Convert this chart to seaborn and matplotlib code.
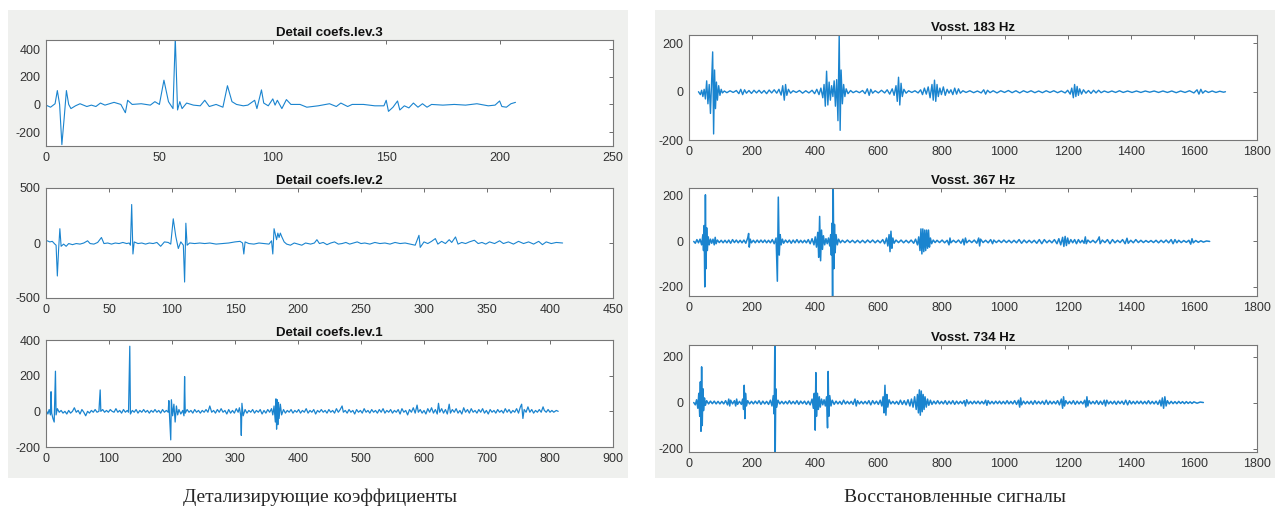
import pandas as pd
import matplotlib.pyplot as plt
import seaborn as sns
from matplotlib.patches import Rectangle

# ── Data (sample index, value) ──────────────────────────────────────────────

lev3 = [(0, -5), (2, -20), (4, 5), (5, 100), (6, 0), (7, -290), (8, -100), (9, 100), (10, 0),
        (11, -30), (13, -10), (15, 5), (18, -15), (20, -5), (22, -15), (24, 10), (26, -5),
        (30, 15), (33, 0), (35, -60), (36, 30), (38, 0), (42, 5), (46, -5), (48, 20), (50, 0),
        (52, 175), (54, 20), (56, -30), (57, 480), (58, -40), (59, 20), (60, -30), (62, 10),
        (65, -5), (68, -10), (70, 30), (72, -15), (75, 0), (78, -20), (80, 135), (82, 20),
        (84, 0), (87, -10), (89, -5), (92, 30), (93, -30), (95, 105), (96, 10), (98, -10),
        (100, 40), (101, -5), (102, 30), (104, -30), (106, 35), (108, 0), (112, 0), (115, -20),
        (120, -10), (125, 5), (128, -15), (130, 10), (133, -15), (135, 0), (140, 0), (145, -10),
        (149, -10), (150, 30), (151, -50), (153, -20), (155, 25), (156, -40), (158, -10),
        (160, -25), (162, 10), (164, -20), (166, 5), (168, -20), (170, 0), (175, -5), (180, 0),
        (185, -5), (190, 5), (195, -10), (198, -5), (200, 25), (201, -15), (203, -20), (205, 5),
        (207, 15)]

lev2 = [(1, 20), (3, 10), (5, 15), (7, -10), (8, -20), (9, -300), (10, -60), (11, 130), (12, -30),
        (14, -10), (16, -30), (18, -5), (21, -15), (24, -5), (27, -10), (30, 0), (33, 20), (35, -5),
        (38, -10), (41, 5), (44, 50), (46, -5), (49, 0), (52, -10), (55, 0), (58, -5), (61, 5),
        (64, -5), (66, 0), (67, -20), (68, 350), (69, -100), (70, 10), (73, -5), (76, 0), (79, -10),
        (82, 0), (85, -5), (88, 5), (91, -30), (94, 10), (97, 5), (99, -10), (101, 220), (103, 60),
        (105, -50), (107, 10), (109, -20), (110, -355), (111, 180), (112, -20), (114, 0), (118, -5),
        (122, 0), (126, -5), (130, 0), (135, -10), (140, -5), (145, 0), (150, 10), (154, 15),
        (156, 0), (157, -100), (158, 10), (161, -5), (165, -10), (169, 0), (173, -5), (177, -10),
        (179, 20), (180, -100), (181, 130), (183, 30), (184, 90), (185, 50), (186, 90), (187, 60),
        (189, 10), (191, -10), (194, -20), (197, 0), (200, -10), (203, -20), (206, 0), (210, -10),
        (213, 0), (215, 30), (217, -5), (220, 5), (223, -15), (226, 0), (229, 10), (232, -10),
        (235, -5), (238, 5), (241, -10), (244, 0), (247, 10), (250, -5), (253, 0), (257, -10),
        (261, 5), (265, -5), (269, 0), (273, -10), (277, 5), (281, -5), (285, 0), (289, -10),
        (293, -20), (296, 70), (297, -40), (300, 10), (303, -5), (306, 15), (309, 40), (311, -10),
        (314, 15), (317, -5), (320, 30), (322, 5), (325, 55), (327, -10), (330, 5), (333, -5),
        (336, 10), (340, 25), (343, -5), (346, 5), (349, -10), (352, 10), (356, -5), (360, 20),
        (363, -5), (367, 10), (371, -10), (375, 15), (379, -5), (383, 10), (387, -10), (391, 15),
        (394, -15), (397, 10), (401, -5), (405, 5), (410, 0)]

lev1 = [(1, 0), (3, -15), (5, 10), (7, -20), (8, 110), (9, -10), (11, -40), (13, -60), (15, 225),
        (16, -20), (18, 15), (21, -5), (24, 5), (27, -10), (30, 0), (33, -15), (36, 5), (39, -10),
        (42, 0), (45, 20), (48, -5), (51, 5), (54, -15), (57, 10), (60, -5), (63, -25), (66, 0),
        (69, -10), (72, 5), (75, -5), (78, 10), (81, -5), (84, 0), (86, 120), (87, 0), (90, 10),
        (93, -5), (96, 5), (99, -5), (102, 10), (105, 0), (108, -5), (111, 15), (114, -5), (117, 5),
        (120, -10), (123, 10), (126, -5), (129, 5), (131, -5), (133, 365), (134, -15), (137, 5),
        (140, -5), (143, 10), (146, -10), (149, 5), (152, -5), (155, 10), (158, -5), (161, 5),
        (164, -10), (167, 5), (170, -5), (173, 10), (176, -5), (179, 5), (182, -10), (185, 10),
        (188, -5), (191, 5), (194, -5), (195, 60), (196, -20), (198, -160), (199, 65), (201, -25),
        (203, 40), (205, -60), (207, 30), (209, -20), (211, 10), (214, -15), (217, 5), (219, -25),
        (220, 195), (221, -10), (224, 10), (227, -5), (230, 5), (233, -10), (236, 10), (239, -5),
        (242, 5), (245, -10), (248, 5), (251, -5), (254, 10), (257, -5), (260, 30), (263, -5),
        (266, 5), (269, -10), (272, 10), (275, -5), (278, 15), (281, -5), (284, 5), (287, -15),
        (290, 10), (293, -10), (296, 5), (299, -10), (302, 15), (305, -5), (307, 20), (309, -20),
        (310, -135), (311, 45), (313, -25), (316, 10), (319, -10), (322, 5), (325, -5), (328, 10),
        (331, -10), (334, 5), (337, -5), (340, 10), (343, -15), (346, 5), (349, -10), (352, 10),
        (355, -5), (358, 15), (360, -20), (362, 30), (364, -60), (365, 70), (366, -100), (367, 65),
        (368, -75), (369, 50), (370, -40), (372, 40), (374, -20), (377, 10), (380, -10), (383, 5),
        (386, -5), (389, 10), (392, -10), (395, 5), (398, -5), (401, 10), (404, -10), (407, 5),
        (410, -5), (413, 15), (416, -10), (419, 5), (422, -5), (425, 10), (428, -15), (431, 5),
        (434, -5), (437, 10), (440, -5), (443, 5), (446, -10), (449, 10), (452, -5), (455, 5),
        (458, -10), (461, 15), (464, -5), (467, 10), (470, 30), (472, -5), (475, 5), (478, -10),
        (481, 10), (484, -5), (487, 5), (490, -15), (493, 10), (496, -5), (499, 5), (502, -10),
        (505, 15), (508, -5), (511, 5), (514, -10), (517, 10), (520, -5), (523, 5), (526, -10),
        (529, 10), (532, -5), (535, 15), (538, -10), (541, 5), (544, -5), (547, 10), (550, -10),
        (553, 5), (556, -5), (559, 10), (562, -15), (565, 15), (568, -5), (571, 5), (574, -20),
        (577, 10), (580, -5), (583, 20), (586, -10), (589, 35), (591, -5), (594, 10), (597, -10),
        (600, 5), (603, -15), (606, 15), (609, -5), (612, 20), (615, -10), (618, 10), (621, -15),
        (623, 45), (625, -5), (628, 15), (631, -10), (634, 10), (637, -15), (640, 40), (642, -10),
        (645, 10), (648, -5), (651, 15), (654, -10), (657, 5), (660, -15), (663, 20), (666, -5),
        (669, 10), (672, -10), (675, 15), (678, -5), (681, 5), (684, -10), (687, 10), (690, -5),
        (693, 15), (696, -10), (699, 5), (702, -15), (705, 10), (708, -5), (711, 5), (714, -10),
        (717, 10), (720, -5), (723, 5), (726, -10), (729, 15), (732, -5), (735, 10), (738, -10),
        (741, 5), (744, -5), (747, 15), (750, -10), (753, 25), (755, 40), (757, -40), (759, 10),
        (762, -5), (765, 25), (768, -5), (771, 10), (774, -10), (777, 5), (780, -5), (783, 10),
        (786, -5), (789, 25), (791, 5), (794, -5), (797, 10), (800, -5), (803, 5), (806, -5),
        (810, 5), (813, 0)]

r183 = [(30, 0), (36, -12), (40, 6), (44, -20), (48, 10), (52, -30), (56, 45), (60, -50), (64, 30),
        (68, -90), (72, 50), (75, 165), (78, -175), (81, 90), (84, -70), (87, 40), (90, -35),
        (94, 25), (98, -15), (102, 10), (106, -5), (112, 3), (120, -4), (130, 4), (140, -3),
        (150, 5), (158, -8), (164, 10), (170, -12), (176, 8), (182, -6), (190, 5), (198, -7),
        (206, 6), (214, -5), (222, 6), (230, -6), (238, 5), (246, -8), (254, 7), (262, -5),
        (270, 8), (278, -6), (285, 10), (292, -14), (297, 25), (302, -35), (306, 30), (310, -15),
        (315, 10), (322, -6), (330, 4), (340, -3), (350, 5), (360, -6), (370, 4), (380, -5),
        (390, 6), (398, -8), (405, 10), (412, -12), (418, 15), (424, -25), (428, 30), (432, -60),
        (436, 85), (440, -55), (444, 40), (448, -35), (452, 25), (456, -20), (460, 45), (464, -60),
        (468, 50), (472, -120), (476, 240), (479, -160), (482, 90), (486, -50), (490, 30),
        (494, -20), (498, 12), (504, -8), (512, 5), (520, -4), (530, 3), (540, -4), (550, 5),
        (558, -8), (565, 12), (571, -15), (576, 10), (582, -6), (590, 4), (600, -5), (610, 6),
        (620, -5), (628, 8), (636, -10), (644, 12), (650, -15), (656, 25), (660, -40), (664, 60),
        (668, -55), (672, 35), (676, -20), (681, 10), (688, -6), (696, 4), (706, -3), (716, 4),
        (726, -5), (734, 8), (740, -12), (746, 15), (752, -10), (758, 20), (764, -25), (770, 30),
        (774, -35), (778, 48), (782, -40), (786, 30), (790, -20), (795, 15), (800, -12), (806, 20),
        (812, -15), (818, 10), (824, -6), (830, 8), (836, -12), (842, 15), (848, -10), (854, 12),
        (860, -6), (868, 4), (878, -3), (890, 4), (902, -4), (914, 3), (926, -5), (934, 8),
        (940, -10), (946, 6), (954, -4), (964, 4), (976, -5), (988, 4), (1000, -3), (1012, 5),
        (1024, -4), (1036, 4), (1048, -5), (1060, 4), (1072, -3), (1084, 4), (1096, -4), (1108, 3),
        (1120, -4), (1132, 4), (1144, -3), (1156, 4), (1168, -4), (1180, 3), (1192, -5), (1200, 6),
        (1208, -10), (1213, 15), (1218, -25), (1222, 30), (1226, -20), (1230, 22), (1234, -15),
        (1238, 12), (1244, -10), (1250, 8), (1258, -6), (1266, 5), (1274, -7), (1282, 6),
        (1290, -5), (1298, 6), (1306, -4), (1316, 3), (1328, -3), (1340, 3), (1352, -3),
        (1364, 4), (1376, -3), (1390, 3), (1404, -3), (1418, 3), (1432, -3), (1446, 3),
        (1460, -2), (1474, 3), (1488, -3), (1502, 3), (1516, -3), (1530, 3), (1544, -4),
        (1558, 3), (1572, -3), (1586, 4), (1600, -5), (1610, 8), (1616, -10), (1622, 10),
        (1628, -6), (1636, 4), (1646, -3), (1658, 3), (1670, -3), (1682, 2), (1694, -2), (1700, 0)]

r367 = [(15, 0), (20, -8), (25, 8), (30, -6), (35, 10), (40, -15), (44, 30), (46, -40), (48, 70),
        (50, -200), (52, 205), (54, -120), (56, 60), (58, -40), (61, 20), (64, -15), (68, 10),
        (72, -8), (76, 10), (80, -15), (83, 18), (86, -10), (90, 6), (96, -5), (102, 5), (108, -6),
        (114, 5), (120, -6), (126, 6), (132, -8), (138, 8), (144, -5), (150, 6), (156, -6),
        (162, 5), (168, -6), (174, 6), (180, -8), (186, 15), (189, 35), (191, -25), (194, 10),
        (198, -6), (204, 5), (210, -6), (216, 6), (222, -5), (228, 6), (234, -5), (240, 6),
        (246, -6), (252, 5), (258, -6), (264, 8), (270, -10), (276, 15), (280, -175), (283, 195),
        (286, -60), (289, 30), (292, -15), (296, 10), (300, -8), (306, 6), (312, -5), (318, 6),
        (324, -8), (330, 6), (336, -6), (342, 8), (348, -6), (354, 5), (360, -6), (366, 5),
        (372, -6), (378, 8), (384, -10), (390, 12), (396, -15), (400, 20), (404, -25), (408, 40),
        (411, -70), (414, 110), (417, -85), (420, 50), (423, -35), (426, 25), (430, -15), (434, 12),
        (438, -10), (442, 15), (446, -20), (449, 30), (451, -60), (453, 80), (455, -245),
        (457, 245), (459, -120), (461, 75), (463, -50), (466, 30), (470, -15), (474, 10), (480, -6),
        (486, 5), (494, -5), (502, 6), (510, -5), (518, 5), (526, -6), (534, 5), (542, -6),
        (550, 5), (558, -6), (566, 6), (574, -5), (582, 6), (590, -6), (598, 5), (606, -6),
        (614, 8), (620, -10), (626, 15), (630, -20), (634, 30), (637, -45), (640, 45), (643, -30),
        (646, 15), (650, -8), (656, 6), (664, -5), (672, 6), (680, -6), (688, 5), (696, -6),
        (704, 6), (712, -8), (718, 10), (724, -15), (728, 20), (732, -40), (735, 55), (738, -55),
        (741, 55), (744, -45), (747, 50), (750, -40), (753, 50), (756, -30), (759, 50), (762, -25),
        (765, 15), (769, -10), (774, 6), (780, -5), (786, 5), (794, -5), (802, 6), (810, -6),
        (818, 5), (824, -15), (827, 15), (830, -6), (838, 5), (846, -5), (854, 6), (862, -8),
        (868, 10), (872, -15), (876, 15), (880, -6), (888, 5), (896, -5), (904, 6), (912, -8),
        (918, 15), (921, -20), (924, 10), (932, -5), (940, 5), (948, -6), (956, 8), (962, -10),
        (966, 6), (974, -5), (982, 5), (990, -5), (998, 6), (1006, -5), (1014, 5), (1022, -6),
        (1030, 5), (1038, -6), (1046, 8), (1054, -8), (1062, 6), (1070, -6), (1078, 5), (1086, -6),
        (1094, 5), (1102, -8), (1110, 8), (1118, -10), (1126, 8), (1134, -6), (1142, 5),
        (1150, -6), (1158, 8), (1166, -10), (1172, 12), (1178, -15), (1184, 18), (1188, -22),
        (1192, 22), (1196, -18), (1200, 15), (1204, -10), (1210, 8), (1216, -6), (1222, 8),
        (1228, -10), (1234, 8), (1240, -6), (1246, 5), (1252, -8), (1256, 20), (1259, -10),
        (1264, 6), (1272, -5), (1280, 5), (1288, -6), (1296, 8), (1300, 20), (1303, -10),
        (1310, 6), (1318, -5), (1326, 8), (1334, -10), (1342, 8), (1350, -6), (1358, 5),
        (1366, -5), (1374, 8), (1382, -10), (1388, 14), (1392, -8), (1400, 5), (1408, -6),
        (1416, 8), (1424, -5), (1432, 5), (1440, -5), (1448, 4), (1456, -4), (1464, 4),
        (1472, -5), (1480, 5), (1488, -6), (1496, 5), (1504, -5), (1512, 6), (1520, -6),
        (1528, 8), (1534, -10), (1540, 8), (1546, -6), (1552, 5), (1560, -5), (1568, 4),
        (1576, -4), (1584, 5), (1590, -12), (1594, 12), (1598, -6), (1606, 4), (1614, -4),
        (1622, 3), (1630, -3), (1640, 2), (1650, 0)]

r734 = [(15, 0), (20, -10), (24, 12), (28, -25), (31, 40), (34, -60), (36, 90), (38, -125),
        (40, 155), (42, -100), (44, 60), (46, -35), (49, 20), (52, -12), (56, 8), (62, -6),
        (68, 6), (74, -5), (80, 6), (86, -6), (92, 5), (98, -6), (104, 5), (110, -6), (116, 8),
        (122, -10), (126, 15), (129, -15), (132, 10), (138, -6), (144, 8), (148, -15), (151, 15),
        (154, -8), (160, 5), (166, -8), (170, 15), (173, -30), (175, 75), (177, -70), (179, 40),
        (182, -15), (186, 8), (192, -6), (198, 5), (204, -6), (210, 6), (216, -5), (222, 8),
        (228, -8), (234, 6), (240, -6), (246, 5), (252, -8), (258, 10), (263, -15), (267, 30),
        (270, -50), (272, 260), (273, -260), (275, 60), (278, -20), (282, 10), (288, -6), (294, 5),
        (300, -6), (306, 5), (312, -6), (318, 8), (324, -6), (330, 5), (336, -6), (342, 8),
        (348, -8), (354, 6), (360, -5), (366, 6), (372, -8), (378, 6), (384, -10), (390, 15),
        (394, -25), (397, 40), (400, -120), (402, 130), (404, -60), (407, 40), (410, -30),
        (413, 25), (416, -20), (420, 15), (424, -10), (428, 12), (432, -15), (436, 25), (439, -110),
        (441, 135), (443, -60), (446, 30), (450, -15), (454, 10), (460, -8), (466, 6), (472, -6),
        (478, 5), (484, -8), (490, 10), (496, -6), (502, 5), (508, -6), (514, 5), (520, -8),
        (526, 15), (530, -15), (534, 8), (540, -6), (546, 5), (552, -6), (558, 5), (564, -6),
        (570, 8), (576, -10), (582, 8), (588, -6), (594, 6), (600, -8), (606, 10), (611, -15),
        (615, 25), (618, -45), (621, 75), (624, -55), (627, 35), (630, -20), (634, 12), (640, -6),
        (646, 5), (652, -6), (658, 5), (664, -8), (670, 10), (676, -8), (682, 8), (688, -10),
        (694, 12), (700, -15), (705, 15), (710, -20), (715, 25), (720, -30), (724, 35), (727, -45),
        (730, 55), (733, -55), (736, 50), (739, -40), (742, 35), (745, -30), (748, 25), (752, -20),
        (756, 15), (760, -12), (765, 10), (770, -8), (776, 6), (782, -6), (788, 8), (794, -6),
        (800, 5), (806, -6), (812, 8), (818, -8), (824, 6), (830, -6), (836, 8), (842, -8),
        (848, 6), (854, -6), (860, 5), (866, -5), (872, 8), (876, -15), (880, 12), (886, -6),
        (892, 5), (898, -6), (904, 6), (910, -5), (916, 6), (922, -6), (928, 5), (934, -6),
        (940, 10), (944, -12), (948, 8), (954, -6), (960, 5), (966, -6), (972, 6), (978, -5),
        (984, 6), (990, -6), (996, 5), (1002, -6), (1008, 8), (1014, -6), (1020, 5), (1026, -6),
        (1032, 8), (1038, -8), (1044, 10), (1048, -20), (1051, 20), (1054, -10), (1060, 6),
        (1066, -6), (1072, 5), (1078, -6), (1084, 6), (1090, -8), (1096, 8), (1102, -6),
        (1108, 5), (1114, -6), (1120, 6), (1126, -8), (1132, 10), (1138, -8), (1144, 6),
        (1150, -6), (1156, 5), (1162, -6), (1168, 8), (1174, -10), (1180, 15), (1184, -25),
        (1187, 25), (1190, -15), (1194, 8), (1200, -6), (1206, 5), (1212, -6), (1218, 8),
        (1224, -8), (1230, 6), (1236, -6), (1242, 5), (1248, -6), (1254, 10), (1258, -20),
        (1261, 25), (1264, -15), (1268, 8), (1274, -6), (1280, 5), (1286, -6), (1292, 8),
        (1298, -8), (1304, 6), (1310, -8), (1316, 10), (1320, -15), (1324, 10), (1330, -6),
        (1336, 5), (1342, -6), (1348, 6), (1354, -8), (1360, 6), (1366, -5), (1372, 6),
        (1378, -8), (1384, 10), (1390, -10), (1396, 8), (1402, -6), (1408, 5), (1414, -6),
        (1420, 6), (1426, -5), (1432, 6), (1438, -6), (1444, 5), (1450, -6), (1456, 8),
        (1462, -6), (1468, 5), (1474, -6), (1480, 6), (1486, -8), (1492, 10), (1496, -15),
        (1500, 20), (1504, -25), (1508, 25), (1512, -15), (1516, 8), (1522, -6), (1528, 5),
        (1534, -5), (1540, 4), (1546, -5), (1552, 5), (1558, -4), (1564, 4), (1570, -5),
        (1576, 4), (1582, -4), (1588, 3), (1594, -4), (1600, 3), (1610, -3), (1620, 2), (1630, 0)]

titles = ["Detail coefs.lev.3", "Detail coefs.lev.2", "Detail coefs.lev.1",
          "Vosst. 183 Hz", "Vosst. 367 Hz", "Vosst. 734 Hz"]
captions = ["Детализирующие коэффициенты", "Восстановленные сигналы"]

# ── Layout (pixels of the 1275x511 target) ──────────────────────────────────

W, H = 1275, 511
BLUE = "#1a84cf"
PANEL_BG = "#eff0ee"

sns.set_style("white")
plt.rcParams["font.family"] = ["Liberation Sans", "DejaVu Sans"]
plt.rcParams["axes.unicode_minus"] = False

fig = plt.figure(figsize=(W / 100, H / 100), dpi=100)


def px_box(x0, y0, x1, y1):
    return [x0 / W, 1 - y1 / H, (x1 - x0) / W, (y1 - y0) / H]


for x0, x1 in [(8, 628), (655, 1275)]:
    fig.add_artist(Rectangle((x0 / W, 1 - 478 / H), (x1 - x0) / W, 468 / H,
                             transform=fig.transFigure, facecolor=PANEL_BG,
                             edgecolor="none", zorder=-1))

panels = [
    (lev3, titles[0], (46, 40, 613, 146), (0, 250), (-300, 465), [0, 50, 100, 150, 200, 250], [-200, 0, 200, 400], 0.8),
    (lev2, titles[1], (46, 188, 613, 298), (0, 450), (-500, 500), list(range(0, 451, 50)), [-500, 0, 500], 0.8),
    (lev1, titles[2], (46, 340, 613, 447), (0, 900), (-200, 400), list(range(0, 901, 100)), [-200, 0, 200, 400], 0.9),
    (r183, titles[3], (689, 35, 1257, 140), (0, 1800), (-200, 235), list(range(0, 1801, 200)), [-200, 0, 200], 1.0),
    (r367, titles[4], (689, 188, 1257, 296), (0, 1800), (-240, 235), list(range(0, 1801, 200)), [-200, 0, 200], 1.1),
    (r734, titles[5], (689, 345, 1257, 452), (0, 1800), (-215, 250), list(range(0, 1801, 200)), [-200, 0, 200], 1.1),
]

for series, title, box, xlim, ylim, xticks, yticks, lw in panels:
    ax = fig.add_axes(px_box(*box))
    df = pd.DataFrame(series, columns=["n", "value"])
    sns.lineplot(data=df, x="n", y="value", ax=ax, color=BLUE, linewidth=lw,
                 estimator=None, sort=False)
    ax.set_xlim(*xlim)
    ax.set_ylim(*ylim)
    ax.set_xticks(xticks)
    ax.set_yticks(yticks)
    ax.set_xlabel("")
    ax.set_ylabel("")
    ax.set_title(title, fontsize=9.5, fontweight="bold", color="#111111", pad=3)
    ax.tick_params(direction="in", length=3, width=0.6, top=True, right=True,
                   labelsize=9, colors="#555555", labelcolor="#333333", pad=4)
    for sp in ax.spines.values():
        sp.set_color("#777777")
        sp.set_linewidth(0.8)
    ax.set_facecolor("white")

fig.text(320 / W, 1 - 497 / H, captions[0], ha="center", va="center",
         family=["Liberation Serif", "DejaVu Serif"], fontsize=14)
fig.text(955 / W, 1 - 497 / H, captions[1], ha="center", va="center",
         family=["Liberation Serif", "DejaVu Serif"], fontsize=14)

fig.savefig("out.png", dpi=100, facecolor="white")
